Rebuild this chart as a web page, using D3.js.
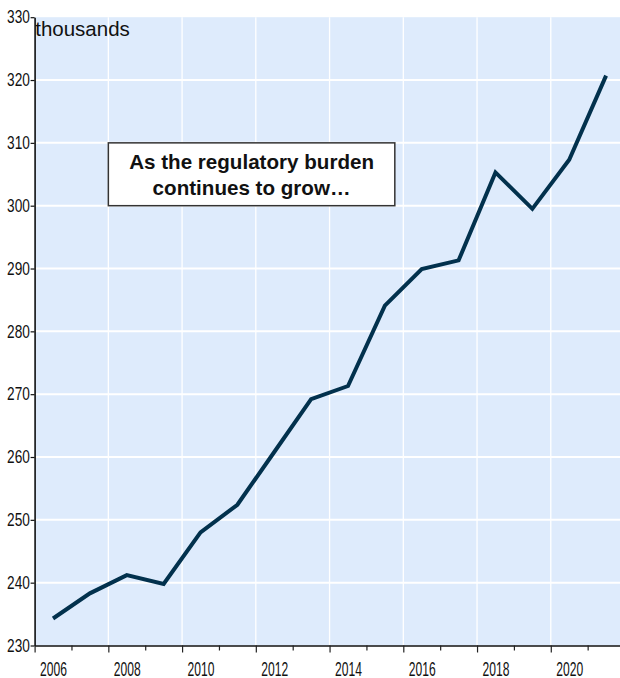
<!DOCTYPE html>
<html>
<head>
<meta charset="utf-8">
<script src="https://cdn.jsdelivr.net/npm/d3@7"></script>
<style>
  html, body { margin: 0; padding: 0; background: #ffffff; }
  svg { display: block; }
  text { font-family: "Liberation Sans", Arial, sans-serif; }
</style>
</head>
<body>
<svg id="chart" width="620" height="678"></svg>
<script>
// ---- data ----
const years = [2006, 2007, 2008, 2009, 2010, 2011, 2012, 2013, 2014, 2015, 2016, 2017, 2018, 2019, 2020, 2021];
const values = [234.3, 238.3, 241.2, 239.8, 248.0, 252.4, 260.8, 269.2, 271.3, 284.1, 289.9, 291.3, 305.3, 299.5, 307.3, 320.7];
const yTicks = [230, 240, 250, 260, 270, 280, 290, 300, 310, 320, 330];
const xLabelYears = [2006, 2008, 2010, 2012, 2014, 2016, 2018, 2020];
const unitLabel = "thousands";
const annotationLines = ["As the regulatory burden", "continues to grow…"];
const annotationBox = { x0: 2008, x1: 2015.77, y0: 310, y1: 300 };

// ---- layout ----
const W = 620, H = 678;
const plotLeft = 34.6, plotTop = 17.2, plotBottom = 645.5;
const yearPx = 36.87;
const svg = d3.select("#chart");

const x = d3.scaleLinear().domain([2006, 2022]).range([plotLeft, plotLeft + 16 * yearPx]);
const y = d3.scaleLinear().domain([230, 330]).range([plotBottom, plotTop]);

// plot background
svg.append("rect")
  .attr("x", x(2006)).attr("y", y(330))
  .attr("width", W - x(2006)).attr("height", y(230) - y(330))
  .attr("fill", "#DEEBFC");

// gridlines
svg.append("g").selectAll("line").data(yTicks.filter(d => d > 230 && d < 330)).join("line")
  .attr("x1", x(2006)).attr("x2", W)
  .attr("y1", d => y(d)).attr("y2", d => y(d))
  .attr("stroke", "#ffffff").attr("stroke-width", 2);
svg.append("g").selectAll("line").data(xLabelYears.filter(d => d > 2006)).join("line")
  .attr("x1", d => x(d)).attr("x2", d => x(d))
  .attr("y1", y(330)).attr("y2", y(230))
  .attr("stroke", "#ffffff").attr("stroke-width", 1.3);

// line
const line = d3.line().x((d, i) => x(years[i] + 0.5)).y(d => y(d));
svg.append("path")
  .datum(values)
  .attr("d", line)
  .attr("fill", "none")
  .attr("stroke", "#02314D")
  .attr("stroke-width", 4)
  .attr("stroke-linejoin", "miter");

// y axis
const yAxis = d3.axisLeft(y).tickValues(yTicks).tickSize(4).tickSizeOuter(0).tickFormat(d3.format("d"));
const gy = svg.append("g").attr("transform", `translate(${x(2006)},0)`).call(yAxis);
gy.select(".domain").attr("stroke", "#111").attr("stroke-width", 1.6);
gy.selectAll(".tick line").attr("stroke", "#111").attr("stroke-width", 1.2);
gy.selectAll(".tick text")
  .attr("x", -6.2)
  .attr("transform", "scale(0.76,1)")
  .attr("font-size", 18)
  .attr("fill", "#111");

// x axis (ticks at each year)
const allTicks = years.concat([2022]);
const gx = svg.append("g").attr("transform", `translate(0,${y(230)})`)
  .call(d3.axisBottom(x).tickValues(allTicks).tickSize(6).tickSizeOuter(0).tickFormat(""));
gx.select(".domain").attr("stroke", "#111").attr("stroke-width", 1.6);
gx.selectAll(".tick line").attr("stroke", "#222").attr("stroke-width", 1.2)
  .attr("y2", d => d % 2 === 0 ? 7 : 5);

// x labels centred in each year
const gxl = svg.append("g").attr("transform", `translate(0,${y(230)})`)
  .call(d3.axisBottom(x).tickValues(xLabelYears.map(d => d + 0.5)).tickSize(0).tickPadding(16.5)
    .tickFormat(d => String(Math.floor(d))));
gxl.select(".domain").remove();
gxl.selectAll(".tick text")
  .attr("transform", "scale(0.62,1)")
  .attr("font-size", 19.5)
  .attr("fill", "#111");

// unit label
svg.append("text")
  .attr("x", x(2006) + 0.6).attr("y", 36)
  .attr("font-size", 20.5)
  .attr("fill", "#111")
  .text(unitLabel);

// annotation box
const bx0 = x(annotationBox.x0), bx1 = x(annotationBox.x1);
const by0 = y(annotationBox.y0), by1 = y(annotationBox.y1);
svg.append("rect")
  .attr("x", bx0).attr("y", by0)
  .attr("width", bx1 - bx0).attr("height", by1 - by0)
  .attr("fill", "#ffffff").attr("stroke", "#333").attr("stroke-width", 1.5);
svg.append("text")
  .attr("x", (bx0 + bx1) / 2).attr("y", by0 + 26.3)
  .attr("text-anchor", "middle")
  .attr("font-size", 20.6).attr("font-weight", "bold").attr("fill", "#111")
  .selectAll("tspan").data(annotationLines).join("tspan")
  .attr("x", (bx0 + bx1) / 2)
  .attr("dy", (d, i) => i === 0 ? 0 : 26)
  .text(d => d);
</script>
</body>
</html>
